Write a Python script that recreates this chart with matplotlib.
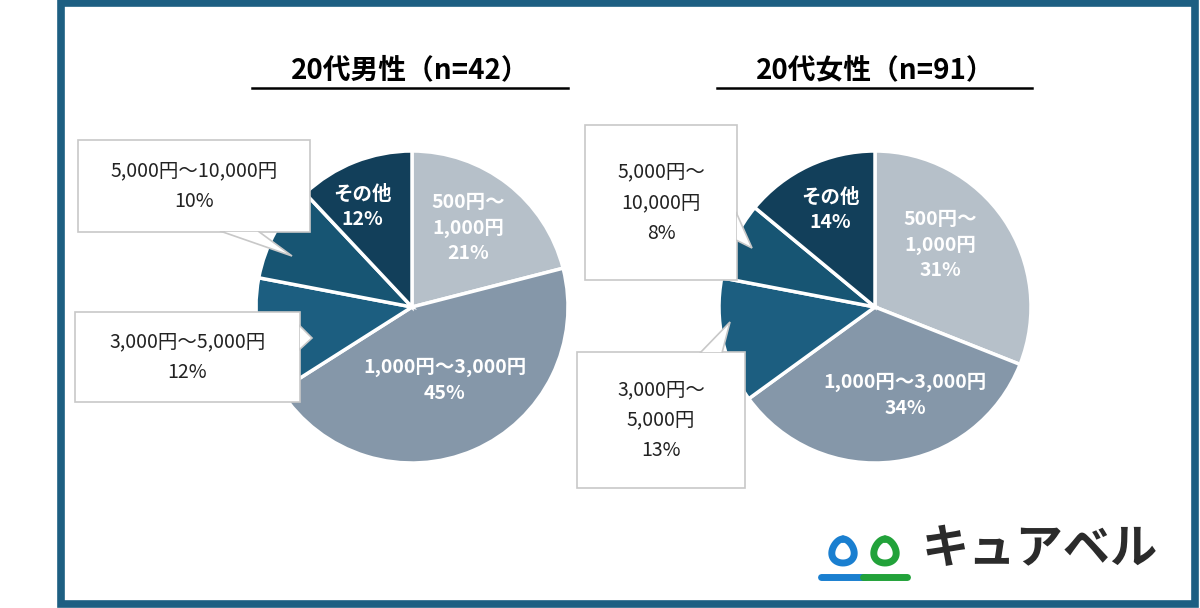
import matplotlib
matplotlib.use("Agg")
import matplotlib.pyplot as plt
import numpy as np
from matplotlib.patches import Rectangle, Polygon

plt.rcParams['font.family'] = ['Noto Sans CJK JP', 'DejaVu Sans']

categories = ["500円～1,000円", "1,000円～3,000円", "3,000円～5,000円", "5,000円～10,000円", "その他"]
male_values = [21, 45, 12, 10, 12]
female_values = [31, 34, 13, 8, 14]
titles = ["20代男性（n=42）", "20代女性（n=91）"]
colors = ["#b6c0c9", "#8597a9", "#1c5e80", "#175573", "#123f5a"]

W, H = 1200, 608
fig = plt.figure(figsize=(12, 6.08), dpi=100)
ax = fig.add_axes([0, 0, 1, 1])
ax.set_xlim(0, W); ax.set_ylim(0, H); ax.set_aspect('equal'); ax.axis('off')
Y = lambda y: H - y

# frame
ax.add_patch(Rectangle((60.5, Y(603.5)), 1134, 601, fill=False, ec="#1d5f82", lw=5.5, zorder=0))

def pie(values, cx, cy, r):
    ax.pie(values, colors=colors, startangle=90, counterclock=False, center=(cx, Y(cy)),
           radius=r, wedgeprops=dict(edgecolor='white', linewidth=2.5), frame=True)

pie(male_values, 412, 307, 156)
pie(female_values, 875, 307, 156)
ax.set_xlim(0, W); ax.set_ylim(0, H); ax.axis('off')

def title(t, cx, x0, x1):
    ax.text(cx, Y(70), t, ha='center', va='center', fontsize=20, fontweight='bold', color='black')
    ax.plot([x0, x1], [Y(88), Y(88)], color='black', lw=1.8)
title(titles[0], 410, 252, 568)
title(titles[1], 875, 717, 1032)

wt = dict(ha='center', va='center', color='white', fontsize=14, fontweight='bold', linespacing=1.45)
ax.text(362, Y(207), "その他\n" + f"{male_values[4]}%", **wt)
ax.text(468, Y(228), "500円～\n1,000円\n" + f"{male_values[0]}%", **wt)
ax.text(445, Y(380), "1,000円～3,000円\n" + f"{male_values[1]}%", **wt)
ax.text(830, Y(210), "その他\n" + f"{female_values[4]}%", **wt)
ax.text(940, Y(245), "500円～\n1,000円\n" + f"{female_values[0]}%", **wt)
ax.text(905, Y(395), "1,000円～3,000円\n" + f"{female_values[1]}%", **wt)

def callout(x0, y0, x1, y1, text, pointer):
    ax.add_patch(Rectangle((x0, Y(y1)), x1 - x0, y1 - y0, fc='white', ec='#c8c8c8', lw=1.2, zorder=5))
    ax.add_patch(Polygon([(px, Y(py)) for px, py in pointer], closed=True, fc='white', ec='#c8c8c8', lw=1.2, zorder=5))
    # cover seam
    ax.add_patch(Rectangle((x0 + 1, Y(y1) + 1), x1 - x0 - 2, y1 - y0 - 2, fc='white', ec='none', zorder=6))
    ax.text((x0 + x1) / 2, Y((y0 + y1) / 2), text, ha='center', va='center', fontsize=14,
            color='#222222', linespacing=1.6, zorder=7)

callout(78, 140, 310, 232, "5,000円～10,000円\n" + f"{male_values[3]}%",
        [(220, 231), (258, 231), (292, 256)])
callout(75, 312, 300, 402, "3,000円～5,000円\n" + f"{male_values[2]}%",
        [(299, 325), (299, 350), (312, 338)])
callout(585, 125, 737, 280, "5,000円～\n10,000円\n" + f"{female_values[3]}%",
        [(736, 212), (736, 240), (752, 248)])
callout(577, 352, 745, 488, "3,000円～\n5,000円\n" + f"{female_values[2]}%",
        [(700, 353), (722, 353), (730, 322)])

# logo
t = np.linspace(0, 2 * np.pi, 200)
for cx, col in [(843, "#1a7fd0"), (885, "#22a23a")]:
    xs = cx + 11 * np.sin(t) * (1 - 0.2 * np.cos(t))
    ys = 545 - 12 * np.cos(t) + 6
    ax.plot(xs, [Y(v) for v in ys], color=col, lw=5, solid_capstyle='round')
    ax.plot([cx - 22, cx + 22], [Y(577), Y(577)], color=col, lw=5, solid_capstyle='round')
ax.text(1040, Y(549), "キュアベル", ha='center', va='center', fontsize=34, fontweight='bold', color='#2b2b2b')

fig.savefig("out.png", dpi=100)
